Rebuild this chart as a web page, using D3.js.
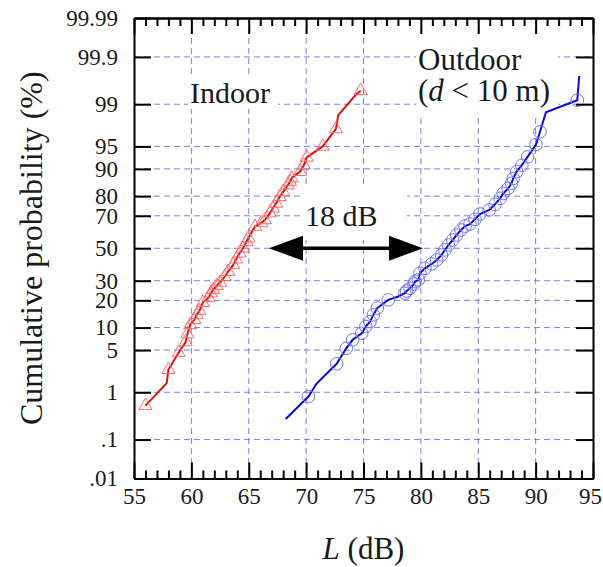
<!DOCTYPE html>
<html>
<head>
<meta charset="utf-8">
<script src="https://cdn.jsdelivr.net/npm/d3@7"></script>
<style>
  body { margin: 0; background: #fff; }
</style>
</head>
<body>
<svg id="chart" width="603" height="567"></svg>
<script>
// ---- data ----
const xTicks = [55, 60, 65, 70, 75, 80, 85, 90, 95];
const yTickValues = [0.01, 0.1, 1, 5, 10, 20, 30, 50, 70, 80, 90, 95, 99, 99.9, 99.99];
const yTickLabels = [".01", ".1", "1", "5", "10", "20", "30", "50", "70", "80", "90", "95", "99", "99.9", "99.99"];

// indoor markers (triangles)
const indoorL = [56.0, 58.0, 58.9, 59.5, 59.65, 59.9, 60.26, 60.46, 60.7, 61.0, 61.5, 61.7, 61.9, 62.2, 62.5,
  62.9, 63.2, 63.65, 63.9, 64.2, 64.5, 64.8, 64.96, 65.55, 66.1, 66.4, 66.85, 67.1, 67.4, 67.7, 68.0,
  68.4, 68.6, 68.74, 69.47, 69.8, 70.05, 71.44, 72.6, 74.75];
const indoorP = [0.55, 2.5, 4.6, 6.5, 8.3, 10.8, 12.4, 14.1, 15.6, 19.0, 21.3, 23.4, 25.1, 27.2, 29.0,
  32.3, 35.3, 39.4, 43.0, 46.8, 50.0, 54.3, 56.4, 63.7, 65.9, 67.6, 71.5, 74.1, 76.6, 79.7, 81.9,
  84.6, 85.8, 87.1, 89.2, 91.0, 92.9, 95.0, 97.3, 99.45];
// extra vertices of the indoor line (no marker)
const indoorLineL = [57.85, 72.8, 74.35];
const indoorLineP = [1.47, 98.42, 99.35];

// outdoor markers (circles)
const outdoorL = [70.2, 72.66, 73.5, 74.05, 74.85, 75.2, 75.57, 75.86, 76.2, 77.16, 78.6, 78.76, 79.05, 79.4,
  79.49, 79.78, 79.92, 80.36, 80.94, 81.38, 81.8, 82.1, 82.4, 82.77, 83.12, 83.5, 83.85, 84.28, 84.72,
  85.15, 85.96, 86.46, 86.9, 87.18, 87.6, 87.9, 88.05, 88.35, 88.8, 89.3, 90.03, 90.38, 93.63];
const outdoorP = [0.83, 3.1, 5.3, 6.96, 8.5, 10.3, 11.8, 14.1, 16.7, 20.2, 23.4, 24.5, 25.9, 28.2,
  29.5, 30.5, 34.3, 37.3, 40.0, 42.5, 45.7, 48.9, 52.1, 55.3, 58.5, 61.6, 64.0, 65.2, 68.0,
  71.0, 73.2, 76.1, 79.0, 81.2, 83.3, 85.3, 87.0, 89.2, 91.0, 93.0, 95.3, 97.0, 99.16];
// extra vertices of the outdoor line (no marker)
const outdoorLineL = [68.22, 70.9, 78.03, 90.9, 93.8];
const outdoorLineP = [0.29, 1.43, 21.8, 98.6, 99.73];

const FONT = "Liberation Serif";

// ---- helpers ----
// inverse standard normal CDF (Acklam)
function probit(p) {
  const a = [-39.69683028665376, 220.9460984245205, -275.9285104469687, 138.3577518672690, -30.66479806614716, 2.506628277459239];
  const b = [-54.47609879822406, 161.5858368580409, -155.6989798598866, 66.80131188771972, -13.28068155288572];
  const c = [-0.007784894002430293, -0.3223964580411365, -2.400758277161838, -2.549732539343734, 4.374664141464968, 2.938163982698783];
  const d = [0.007784695709041462, 0.3224671290700398, 2.445134137142996, 3.754408661907416];
  const pl = 0.02425;
  let q, r;
  if (p < pl) {
    q = Math.sqrt(-2 * Math.log(p));
    return (((((c[0]*q+c[1])*q+c[2])*q+c[3])*q+c[4])*q+c[5]) / ((((d[0]*q+d[1])*q+d[2])*q+d[3])*q+1);
  } else if (p <= 1 - pl) {
    q = p - 0.5; r = q * q;
    return (((((a[0]*r+a[1])*r+a[2])*r+a[3])*r+a[4])*r+a[5])*q / (((((b[0]*r+b[1])*r+b[2])*r+b[3])*r+b[4])*r+1);
  } else {
    q = Math.sqrt(-2 * Math.log(1 - p));
    return -(((((c[0]*q+c[1])*q+c[2])*q+c[3])*q+c[4])*q+c[5]) / ((((d[0]*q+d[1])*q+d[2])*q+d[3])*q+1);
  }
}

const mLeft = 134, mRight = 593, mTop = 18, mBottom = 478.5;
const svg = d3.select("#chart").attr("font-family", FONT);

const x = d3.scaleLinear().domain([55, 95]).range([mLeft, mRight]);
const zMax = probit(0.9999);
const yz = d3.scaleLinear().domain([-zMax, zMax]).range([mBottom, mTop]);
const y = p => yz(probit(p / 100));
const zTicks = yTickValues.map(p => probit(p / 100));

function zipPts(L, P) { return L.map((v, i) => ({L: v, P: P[i]})); }
const indoorPts = zipPts(indoorL, indoorP);
const outdoorPts = zipPts(outdoorL, outdoorP);
const indoorLine = indoorPts.concat(zipPts(indoorLineL, indoorLineP)).sort((a, b) => a.P - b.P);
const outdoorLine = outdoorPts.concat(zipPts(outdoorLineL, outdoorLineP)).sort((a, b) => a.P - b.P);

// ---- grid ----
const grid = svg.append("g").attr("stroke", "#7b7bf2").attr("stroke-width", 1).attr("stroke-dasharray", "6,4");
grid.selectAll(".gx").data(xTicks.slice(1, -1)).enter().append("line")
  .attr("x1", d => x(d)).attr("x2", d => x(d)).attr("y1", mTop).attr("y2", mBottom);
grid.selectAll(".gy").data(zTicks.slice(1, -1)).enter().append("line")
  .attr("x1", mLeft).attr("x2", mRight).attr("y1", d => yz(d)).attr("y2", d => yz(d));

// ---- white label boxes ----
const boxes = [[188, 78, 90, 31], [303, 188, 104, 52], [416, 38, 142, 78]];
svg.selectAll(".box").data(boxes).enter().append("rect")
  .attr("x", d => d[0]).attr("y", d => d[1]).attr("width", d => d[2]).attr("height", d => d[3])
  .attr("fill", "#fff");

function label(xp, yp, size) {
  return svg.append("text").attr("x", xp).attr("y", yp).attr("font-size", size)
    .attr("font-family", FONT).attr("fill", "#1a1a1a");
}
label(190, 103, 30).text("Indoor");
label(305, 226, 30).text("18 dB");
label(418, 70, 31).text("Outdoor");
const t2 = label(418, 101, 31);
t2.append("tspan").text("(");
t2.append("tspan").attr("font-style", "italic").text("d");
t2.append("tspan").text(" < 10 m)");

// ---- arrow ----
const ay = y(50);
svg.append("line").attr("x1", 290).attr("x2", 400).attr("y1", ay).attr("y2", ay)
  .attr("stroke", "#000").attr("stroke-width", 3.5);
svg.append("path").attr("fill", "#000")
  .attr("d", `M269,${ay}L303,${ay - 12.5}L303,${ay + 12.5}Z`);
svg.append("path").attr("fill", "#000")
  .attr("d", `M423,${ay}L389,${ay - 12.5}L389,${ay + 12.5}Z`);

// ---- series ----
const line = d3.line().x(d => x(d.L)).y(d => y(d.P));
svg.append("path").datum(indoorLine).attr("d", line)
  .attr("fill", "none").attr("stroke", "#e01010").attr("stroke-width", 2);
svg.append("path").datum(outdoorLine).attr("d", line)
  .attr("fill", "none").attr("stroke", "#0a0ad8").attr("stroke-width", 2);

const tri = d3.symbol().type(d3.symbolTriangle).size(75);
svg.append("g").selectAll("path").data(indoorPts).enter().append("path")
  .attr("d", tri)
  .attr("transform", d => `translate(${x(d.L)},${y(d.P)})`)
  .attr("fill", "none").attr("stroke", "#ff6b6b").attr("stroke-width", 1);

svg.append("g").selectAll("circle").data(outdoorPts).enter().append("circle")
  .attr("cx", d => x(d.L)).attr("cy", d => y(d.P)).attr("r", 6.3)
  .attr("fill", "none").attr("stroke", "#7272f5").attr("stroke-width", 1);

// ---- axes ----
function styleAxis(g) {
  g.attr("font-family", FONT);
  g.selectAll("path.domain").attr("stroke", "#000").attr("stroke-width", 2);
  g.selectAll(".tick line").attr("stroke", "#000").attr("stroke-width", 2);
  g.selectAll("text").attr("font-size", 23).attr("fill", "#1a1a1a");
}
const minorX = d3.range(56, 95).filter(v => v % 5 !== 0);

svg.append("g").attr("transform", `translate(0,${mBottom})`)
  .call(d3.axisBottom(x).tickValues(xTicks).tickSizeInner(-16).tickSizeOuter(0).tickPadding(9))
  .call(styleAxis)
  .call(g => g.selectAll(".tick:last-of-type text").attr("dx", -3));
svg.append("g").attr("transform", `translate(0,${mBottom})`)
  .call(d3.axisBottom(x).tickValues(minorX).tickSizeInner(-8).tickSizeOuter(0).tickFormat(""))
  .call(styleAxis);
svg.append("g").attr("transform", `translate(0,${mTop})`)
  .call(d3.axisTop(x).tickValues(xTicks).tickSizeInner(-16).tickSizeOuter(0).tickFormat(""))
  .call(styleAxis);
svg.append("g").attr("transform", `translate(0,${mTop})`)
  .call(d3.axisTop(x).tickValues(minorX).tickSizeInner(-8).tickSizeOuter(0).tickFormat(""))
  .call(styleAxis);
svg.append("g").attr("transform", `translate(${mLeft},0)`)
  .call(d3.axisLeft(yz).tickValues(zTicks).tickSizeInner(-17).tickSizeOuter(0).tickPadding(16)
    .tickFormat((d, i) => yTickLabels[i]))
  .call(styleAxis);
svg.append("g").attr("transform", `translate(${mRight},0)`)
  .call(d3.axisRight(yz).tickValues(zTicks).tickSizeInner(-17).tickSizeOuter(0).tickFormat(""))
  .call(styleAxis);

// ---- titles ----
label(0, 0, 32).attr("transform", `translate(42,${(mTop + mBottom) / 2}) rotate(-90)`)
  .attr("text-anchor", "middle").text("Cumulative probability (%)");
const xt = label((mLeft + mRight) / 2, 559, 31).attr("text-anchor", "middle");
xt.append("tspan").attr("font-style", "italic").text("L");
xt.append("tspan").text(" (dB)");
</script>
</body>
</html>
